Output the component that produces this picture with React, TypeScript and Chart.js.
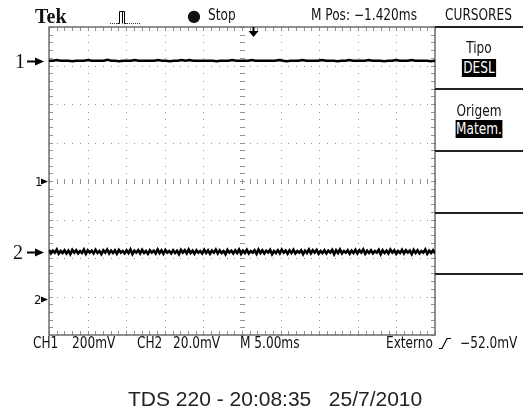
import React, { useEffect, useRef } from "react";
import { Chart, registerables } from "chart.js";

Chart.register(...registerables);

// ---- data (screen divisions) ----
const xDivisions = [0, 1, 2, 3, 4, 5, 6, 7, 8, 9, 10];
const yDivisions = [-4, -3, -2, -1, 0, 1, 2, 3, 4];
const minorStep = 0.2;
const ch1Ground = 0;
const ch2Ground = -3.065;
const triggerPos = 5.285;
const ch1Level = 3.125;
const ch2Level = -1.836;

const ch1Trace = [
  3.125, 3.125, 3.14, 3.125, 3.125, 3.125, 3.11, 3.125, 3.125, 3.125,
  3.14, 3.125, 3.125, 3.125, 3.125, 3.15, 3.125, 3.125, 3.11, 3.125,
  3.125, 3.125, 3.14, 3.125, 3.125, 3.125, 3.125, 3.125, 3.14, 3.125,
  3.125, 3.11, 3.125, 3.125, 3.14, 3.125, 3.14, 3.125, 3.125, 3.125,
  3.125, 3.125, 3.125, 3.11, 3.125, 3.125, 3.125, 3.14, 3.125, 3.125,
  3.125, 3.125, 3.14, 3.125, 3.125, 3.125, 3.125, 3.125, 3.125, 3.14,
  3.125, 3.11, 3.125, 3.125, 3.125, 3.14, 3.125, 3.125, 3.125, 3.125,
  3.14, 3.125, 3.125, 3.125, 3.11, 3.125, 3.125, 3.14, 3.125, 3.125,
  3.125, 3.125, 3.14, 3.125, 3.125, 3.125, 3.11, 3.125, 3.125, 3.14,
  3.125, 3.125, 3.125, 3.14, 3.125, 3.125, 3.125, 3.125, 3.11, 3.125,
];

const ch2Trace = [
  -1.79, -1.88, -1.81, -1.86, -1.78, -1.89, -1.82, -1.87, -1.8, -1.88,
  -1.81, -1.9, -1.79, -1.86, -1.8, -1.88, -1.82, -1.87, -1.78, -1.89,
  -1.8, -1.86, -1.81, -1.88, -1.79, -1.87, -1.82, -1.9, -1.8, -1.86,
  -1.78, -1.88, -1.81, -1.87, -1.8, -1.89, -1.79, -1.86, -1.82, -1.88,
  -1.8, -1.87, -1.78, -1.9, -1.81, -1.86, -1.8, -1.88, -1.79, -1.87,
  -1.82, -1.89, -1.8, -1.86, -1.81, -1.88, -1.78, -1.87, -1.8, -1.89,
  -1.79, -1.86, -1.82, -1.88, -1.8, -1.87, -1.81, -1.9, -1.79, -1.86,
  -1.8, -1.88, -1.78, -1.87, -1.81, -1.89, -1.8, -1.86, -1.82, -1.88,
  -1.79, -1.87, -1.8, -1.89, -1.81, -1.86, -1.78, -1.88, -1.8, -1.87,
  -1.82, -1.9, -1.79, -1.86, -1.81, -1.88, -1.8, -1.87, -1.78, -1.89,
  -1.81, -1.87, -1.79, -1.88, -1.82, -1.86, -1.8, -1.89, -1.78, -1.87,
  -1.8, -1.88, -1.81, -1.86, -1.79, -1.9, -1.82, -1.87, -1.8, -1.88,
  -1.78, -1.86, -1.81, -1.89, -1.8, -1.87, -1.79, -1.88, -1.82, -1.86,
  -1.8, -1.9, -1.81, -1.87, -1.78, -1.88, -1.8, -1.86, -1.79, -1.89,
  -1.82, -1.87, -1.8, -1.88, -1.81, -1.86, -1.79, -1.9, -1.8, -1.87,
  -1.78, -1.88, -1.82, -1.86, -1.8, -1.89, -1.81, -1.87, -1.79, -1.88,
  -1.8, -1.86, -1.78, -1.89, -1.81, -1.87, -1.8, -1.88, -1.82, -1.86,
  -1.79, -1.9, -1.8, -1.87, -1.81, -1.88, -1.78, -1.86, -1.8, -1.89,
  -1.82, -1.87, -1.79, -1.88, -1.8, -1.86, -1.81, -1.9, -1.79, -1.87,
  -1.8, -1.88, -1.82, -1.86, -1.78, -1.89, -1.81, -1.87, -1.8, -1.88,
];

const toPoints = (arr: number[]) =>
  arr.map((v, i) => ({ x: (i * 10) / (arr.length - 1), y: v }));

const graticule = {
  id: "graticule",
  beforeDatasetsDraw(chart: any) {
    const { ctx, chartArea: a, scales } = chart;
    const x = scales.x;
    const y = scales.y;
    const xMin = xDivisions[0];
    const xMax = xDivisions[xDivisions.length - 1];
    const yMin = yDivisions[0];
    const yMax = yDivisions[yDivisions.length - 1];
    const nx = Math.round((xMax - xMin) / minorStep);
    const ny = Math.round((yMax - yMin) / minorStep);
    ctx.save();
    ctx.fillStyle = "#939393";
    xDivisions.forEach((gx) => {
      if (gx === xMin || gx === xMax) return;
      const px = Math.round(x.getPixelForValue(gx));
      for (let k = 0; k <= ny; k++) {
        const py = Math.round(y.getPixelForValue(yMin + k * minorStep));
        if (gx === 5) ctx.fillRect(px - 2, py, 5, 1);
        else ctx.fillRect(px, py, 1, 1);
      }
    });
    yDivisions.forEach((gy) => {
      if (gy === yMin || gy === yMax) return;
      const py = Math.round(y.getPixelForValue(gy));
      for (let k = 0; k <= nx; k++) {
        const px = Math.round(x.getPixelForValue(xMin + k * minorStep));
        if (gy === 0) ctx.fillRect(px, py - 2, 1, 5);
        else ctx.fillRect(px, py, 1, 1);
      }
    });
    const L = Math.round(a.left), R = Math.round(a.right), T = Math.round(a.top), B = Math.round(a.bottom);
    for (let k = 0; k <= ny; k++) {
      const py = Math.round(y.getPixelForValue(yMin + k * minorStep));
      ctx.fillRect(L, py, 4, 1);
      ctx.fillRect(R - 4, py, 4, 1);
    }
    for (let k = 0; k <= nx; k++) {
      const px = Math.round(x.getPixelForValue(xMin + k * minorStep));
      ctx.fillRect(px, T, 1, 4);
      ctx.fillRect(px, B - 4, 1, 4);
    }
    ctx.strokeStyle = "#6e6e6e";
    ctx.lineWidth = 1.5;
    ctx.strokeRect(L, T, R - L, B - T);
    ctx.restore();
  },
  afterDraw(chart: any) {
    const { ctx, chartArea: a, scales } = chart;
    const x = scales.x;
    const y = scales.y;
    ctx.save();
    ctx.fillStyle = "#000";
    ctx.strokeStyle = "#000";
    const tx = Math.round(x.getPixelForValue(triggerPos)) + 0.5;
    const T = a.top;
    ctx.lineWidth = 2;
    ctx.beginPath();
    ctx.moveTo(tx, T);
    ctx.lineTo(tx, T + 5);
    ctx.stroke();
    ctx.beginPath();
    ctx.moveTo(tx - 5, T + 4);
    ctx.lineTo(tx + 5, T + 4);
    ctx.lineTo(tx, T + 10);
    ctx.closePath();
    ctx.fill();
    [ch1Ground, ch2Ground].forEach((g) => {
      const py = Math.round(y.getPixelForValue(g)) + 0.5;
      ctx.beginPath();
      ctx.moveTo(a.left - 8, py - 3);
      ctx.lineTo(a.left - 1, py);
      ctx.lineTo(a.left - 8, py + 3);
      ctx.closePath();
      ctx.fill();
    });
    [ch1Level, ch2Level].forEach((lv) => {
      const py = Math.round(y.getPixelForValue(lv)) + 0.5;
      ctx.lineWidth = 2;
      ctx.beginPath();
      ctx.moveTo(a.left - 22, py);
      ctx.lineTo(a.left - 12, py);
      ctx.stroke();
      ctx.beginPath();
      ctx.moveTo(a.left - 14, py - 4);
      ctx.lineTo(a.left - 5, py);
      ctx.lineTo(a.left - 14, py + 4);
      ctx.closePath();
      ctx.fill();
    });
    ctx.lineWidth = 1;
    ctx.fillStyle = "#333";
    for (let px = 110; px <= 117; px += 2) ctx.fillRect(px, 23, 1, 1);
    for (let px = 127; px <= 140; px += 2) ctx.fillRect(px, 23, 1, 1);
    ctx.beginPath();
    ctx.moveTo(117.5, 23.5);
    ctx.lineTo(119.5, 23.5);
    ctx.lineTo(119.5, 11.5);
    ctx.lineTo(124.5, 11.5);
    ctx.lineTo(124.5, 23.5);
    ctx.lineTo(126.5, 23.5);
    ctx.moveTo(122.5, 11.5);
    ctx.lineTo(122.5, 23.5);
    ctx.stroke();
    ctx.lineWidth = 1.2;
    ctx.beginPath();
    ctx.moveTo(439, 348.5);
    ctx.lineTo(442, 348.5);
    ctx.lineTo(447, 338.5);
    ctx.lineTo(451, 338.5);
    ctx.stroke();
    ctx.restore();
  },
};

const narrow = "'DejaVu Sans Condensed', 'Liberation Sans Narrow', 'DejaVu Sans', sans-serif";

function T(props: { x: number; y: number; size?: number; w?: number; sx?: number; style?: any; children: any }) {
  const { x, y, size = 14, w, sx = 0.9, style, children } = props;
  return (
    <div
      style={{
        position: "absolute",
        left: x,
        top: y,
        width: w,
        textAlign: w ? "center" : undefined,
        fontSize: size,
        lineHeight: 1,
        whiteSpace: "pre",
        fontFamily: narrow,
        color: "#111",
        transform: `scaleX(${sx})`,
        transformOrigin: w ? "center" : "left",
        ...style,
      }}
    >
      {children}
    </div>
  );
}

const inv = { background: "#000", color: "#fff", padding: "0 1px" };

export default function App() {
  const ref = useRef<HTMLCanvasElement>(null);
  useEffect(() => {
    const chart = new Chart(ref.current!, {
      type: "line",
      data: {
        datasets: [
          { data: toPoints(ch1Trace), borderColor: "#000", borderWidth: 2.5, pointRadius: 0, tension: 0 },
          { data: toPoints(ch2Trace), borderColor: "#000", borderWidth: 2.6, pointRadius: 0, tension: 0 },
        ],
      },
      options: {
        animation: false,
        responsive: false,
        events: [],
        layout: { padding: { left: 49, top: 27, right: 88, bottom: 75 } },
        plugins: { legend: { display: false }, tooltip: { enabled: false }, title: { display: false } },
        scales: {
          x: { type: "linear", min: xDivisions[0], max: xDivisions[xDivisions.length - 1], display: false },
          y: { type: "linear", min: yDivisions[0], max: yDivisions[yDivisions.length - 1], display: false },
        },
      },
      plugins: [graticule],
    });
    return () => chart.destroy();
  }, []);

  const panelLines = [27, 89, 151, 213, 274];

  return (
    <div style={{ position: "fixed", left: 0, top: 0, width: 523, height: 410, background: "#fff", overflow: "hidden" }}>
      <canvas ref={ref} width={523} height={410} style={{ position: "absolute", left: 0, top: 0 }} />
      {panelLines.map((py) => (
        <div key={py} style={{ position: "absolute", left: 435, top: py - 1, width: 88, height: 2, background: "#222" }} />
      ))}
      <T x={35} y={6} size={20} sx={1} style={{ fontFamily: "'Liberation Serif', serif", fontWeight: "bold" }}>Tek</T>
      <T x={187} y={8} size={16} sx={1} style={{ fontFamily: "'DejaVu Sans', sans-serif" }}>●</T>
      <T x={208} y={8} size={15}>Stop</T>
      <T x={311} y={8} size={15}>M Pos: −1.420ms</T>
      <T x={445} y={8} size={15}>CURSORES</T>
      <T x={435} y={41} w={88} size={15}>Tipo</T>
      <T x={435} y={61} w={88} size={15}><span style={inv}>DESL</span></T>
      <T x={435} y={104} w={88} size={15}>Origem</T>
      <T x={435} y={122} w={88} size={15}><span style={inv}>Matem.</span></T>
      <T x={35} y={175} size={13} sx={1}>1</T>
      <T x={34} y={293} size={13} sx={1}>2</T>
      <T x={15} y={51} size={20} sx={1} style={{ fontFamily: "'Liberation Serif', serif" }}>1</T>
      <T x={13} y={242} size={20} sx={1} style={{ fontFamily: "'Liberation Serif', serif" }}>2</T>
      <T x={33} y={336} size={15}>CH1</T>
      <T x={72} y={336} size={15}>200mV</T>
      <T x={137} y={336} size={15}>CH2</T>
      <T x={173} y={336} size={15}>20.0mV</T>
      <T x={240} y={336} size={15}>M 5.00ms</T>
      <T x={386} y={336} size={15}>Externo</T>
      <T x={460} y={336} size={15}>−52.0mV</T>
      <T x={128} y={388} size={21} sx={1} style={{ fontFamily: "'Liberation Sans', Arial, sans-serif", color: "#222" }}>
        TDS 220 - 20:08:35   25/7/2010
      </T>
    </div>
  );
}
